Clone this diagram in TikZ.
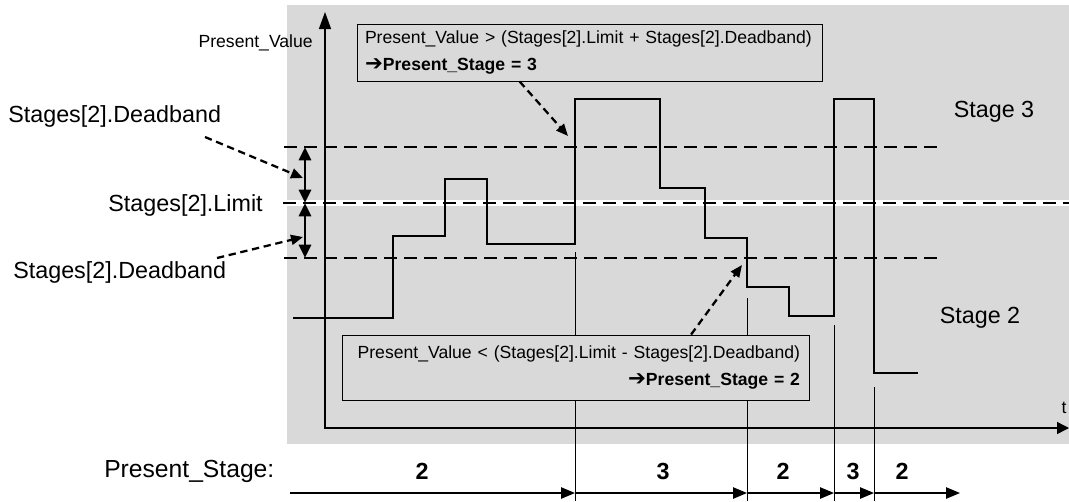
\documentclass[tikz,border=0pt]{standalone}
\usepackage{fontspec}
\setmainfont{Liberation Sans}
\newfontfamily\arrowfont{DejaVu Sans}
\usetikzlibrary{arrows.meta,calc}
\definecolor{plotgray}{RGB}{217,217,217}
\begin{document}
\begin{tikzpicture}[x=0.75pt,y=-0.75pt,
    lbl/.style={inner sep=0pt,font=\fontsize{17.5}{21}\selectfont},
    small/.style={inner sep=0pt,font=\fontsize{13.2}{20.25}\selectfont},
    stagenum/.style={inner sep=0pt,font=\fontsize{17.5}{21}\selectfont\bfseries},
    condbox/.style={draw,line width=0.75pt,fill=plotgray,inner ysep=0pt,
        text width=336.75pt,font=\fontsize{13.2}{20.25}\selectfont},
    limitline/.style={line width=1.8pt,dash pattern=on 9.75pt off 5.25pt},
    signal/.style={line width=1.8pt},
    marker/.style={line width=0.75pt},
    axis/.style={line width=1.1pt},
    hint/.style={line width=1.7pt,dash pattern=on 5.5pt off 3.5pt,
        -{Triangle[length=9pt,width=7.5pt]}},
    band/.style={line width=2.2pt,
        {Triangle[length=10pt,width=9pt]}-{Triangle[length=10pt,width=9pt]}},
    stagearrow/.style={line width=1.1pt,-{Triangle[length=10.5pt,width=8.5pt]}}]
                {
    \def\arrowglyph{{\arrowfont\bfseries\fontsize{16}{20.25}\selectfont ➔}}
    \useasboundingbox (0,0) rectangle (1069,501);

    \fill[plotgray] (287,5) rectangle (1069,444);
    \draw[white,line width=4.5pt] (287,203) -- (1069,203);

    \coordinate (bandtop) at (305,147);
    \coordinate (bandmid) at (305,203);
    \coordinate (bandbot) at (305,258);

    \draw[limitline] (284,147) -- (937,147);
    \draw[limitline] (283,203) -- (1069,203);
    \draw[limitline] (284,258) -- (937,258);

    \coordinate (s0) at (290,493);
    \foreach \n/\x/\top in {1/575/252,2/747/298,3/834/325,4/874/387}
    {
        \coordinate (m\n) at (\x,\top);
        \coordinate (s\n) at (\x,493);
        \draw[marker] (m\n) -- (\x,501);
    }
    \coordinate (s5) at (960,493);

    \coordinate (ytop) at (325,12);
    \coordinate (xend) at (1069,428);
    \draw[axis,{Triangle[length=12.75pt,width=9pt]}-{Triangle[length=9pt,width=9pt]}]
        (ytop) |- (xend);

    \node[condbox,align=left,inner xsep=6pt,minimum height=42.75pt] (upbox)
        at (589.5,52.5)
        {Present\_Value > (Stages[2].Limit + Stages[2].Deadband)\\
         \arrowglyph\textbf{Present\_Stage = 3}};
    \node[condbox,align=right,inner xsep=6.75pt,minimum height=48.75pt] (downbox)
        at (575.5,367.5)
        {Present\_Value < (Stages[2].Limit - Stages[2].Deadband)\\
         \arrowglyph\textbf{Present\_Stage = 2}};

    \draw[signal] (293,318) -| (393,236) -| (445,179) -| (487,244) -| (575,99)
        -| (660,188) -| (705,238) -| (747,287) -| (789,316) -| (834,99)
        -| (874,373) -- (918,373);

    \coordinate (uptip) at (568,136);
    \coordinate (downtip) at (742,265);
    \draw[hint] ($(upbox.south west)!0.35!(upbox.south east)$) -- (uptip);
    \draw[hint] ($(downbox.north west)!0.747!(downbox.north east)$) -- (downtip);

    \draw[band] (bandtop) -- (bandmid);
    \draw[band] (bandmid) -- (bandbot);

    \node[lbl,anchor=base west] (dbup) at (8,122) {Stages[2].Deadband};
    \node[lbl,anchor=base east] (limit) at (263,211) {Stages[2].Limit};
    \node[lbl,anchor=base west] (dblow) at (13,278) {Stages[2].Deadband};
    \coordinate (dbupend) at (303,178);
    \coordinate (dblowend) at (303,237);
    \draw[hint] (205,137) -- (dbupend);
    \draw[hint] (217,258) -- (dblowend);

    \node[small,anchor=base east] (pv) at (313,47) {Present\_Value};
    \node[small,anchor=base] (tlbl) at (1064,413) {t};
    \node[lbl,anchor=base] (stage3) at (994,117) {Stage 3};
    \node[lbl,anchor=base] (stage2) at (980,323) {Stage 2};

    \node[lbl,font=\fontsize{18.5}{22}\selectfont,anchor=base west] (ps)
        at (104,477) {Present\_Stage:};
    \foreach \x/\v in {422/2,663/3,783/2,853/3,902/2}
        \node[stagenum,anchor=base] (n\x) at (\x,479) {\v};

    \draw[stagearrow] (s0) -- (s1);
    \draw[stagearrow] (s1) -- (s2);
    \draw[stagearrow] (s2) -- (s3);
    \draw[stagearrow] (s3) -- (s4);
    \draw[stagearrow] (s4) -- (s5);
}
\end{tikzpicture}
\end{document}
